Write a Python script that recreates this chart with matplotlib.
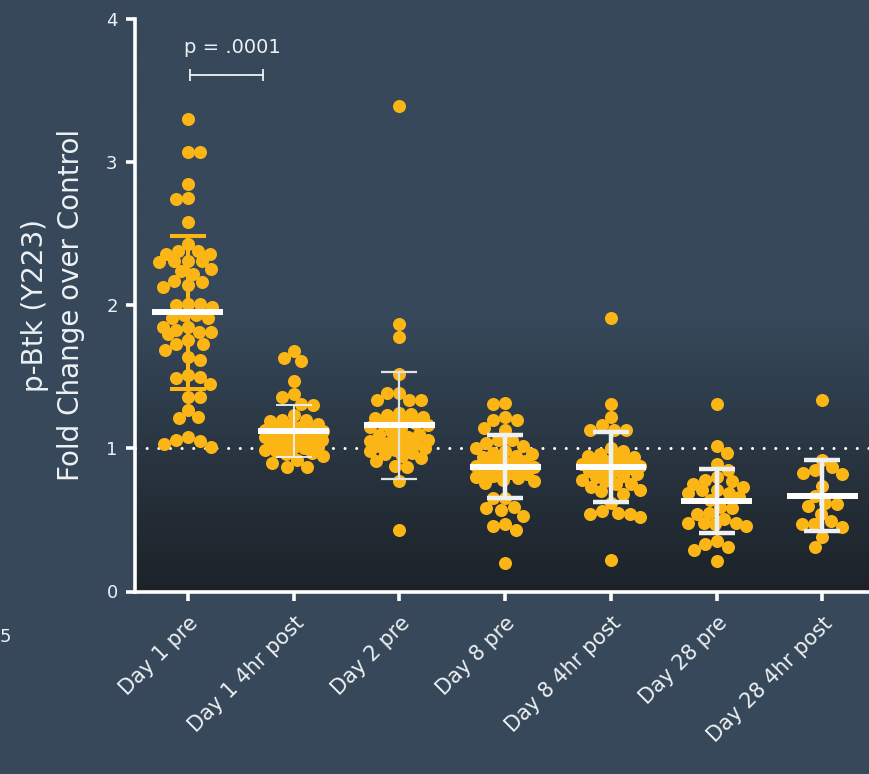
import numpy as np
import matplotlib
matplotlib.use('Agg')
import matplotlib.pyplot as plt

# p-Btk (Y223) fold change per timepoint
groups = ['Day 1 pre', 'Day 1 4hr post', 'Day 2 pre', 'Day 8 pre',
          'Day 8 4hr post', 'Day 28 pre', 'Day 28 4hr post']

day1_pre = [3.30, 3.07, 3.07, 2.85, 2.75, 2.74, 2.58, 2.43, 2.36, 2.38, 2.38, 2.36,
            2.31, 2.30, 2.31, 2.31, 2.24, 2.22, 2.25, 2.17, 2.14, 2.13, 2.16, 2.01,
            2.00, 1.99, 2.01, 1.93, 1.91, 1.91, 1.93, 1.85, 1.81, 1.80, 1.76, 1.81,
            1.83, 1.85, 1.73, 1.69, 1.73, 1.62, 1.64, 1.50, 1.45, 1.49, 1.51, 1.36,
            1.36, 1.27, 1.22, 1.21, 1.08, 1.05, 1.01, 1.03, 1.06]
day1_4hr = [1.68, 1.63, 1.61, 1.47, 1.38, 1.36, 1.31, 1.30, 1.23, 1.20, 1.20, 1.19,
            1.17, 1.16, 1.15, 1.15, 1.14, 1.13, 1.12, 1.11, 1.10, 1.09, 1.08, 1.07,
            1.06, 1.05, 1.04, 1.03, 1.02, 1.01, 1.00, 0.99, 0.98, 1.12, 1.08, 1.04,
            1.00, 0.97, 0.96, 0.95, 0.92, 0.90, 0.87, 0.87]
day2_pre = [3.39, 1.87, 1.78, 1.52, 1.39, 1.39, 1.34, 1.34, 1.34, 1.25, 1.24, 1.23,
            1.22, 1.21, 1.20, 1.19, 1.18, 1.17, 1.16, 1.15, 1.14, 1.12, 1.10, 1.09,
            1.08, 1.07, 1.06, 1.05, 1.04, 1.03, 1.02, 1.01, 1.00, 0.99, 0.98, 0.97,
            0.96, 0.95, 0.93, 0.91, 0.88, 0.87, 0.77, 0.43]
day8_pre = [1.32, 1.31, 1.22, 1.20, 1.20, 1.14, 1.13, 1.06, 1.06, 1.04, 1.02, 1.00,
            0.98, 0.97, 0.96, 0.95, 0.94, 0.92, 0.91, 0.90, 0.89, 0.88, 0.87, 0.86,
            0.85, 0.84, 0.83, 0.82, 0.81, 0.80, 0.79, 0.78, 0.77, 0.76, 0.65, 0.65,
            0.59, 0.58, 0.57, 0.53, 0.47, 0.46, 0.43, 0.20]
day8_4hr = [1.91, 1.31, 1.22, 1.16, 1.13, 1.13, 1.13, 1.00, 0.98, 0.96, 0.95, 0.94,
            0.93, 0.92, 0.91, 0.90, 0.89, 0.88, 0.87, 0.86, 0.85, 0.84, 0.83, 0.82,
            0.81, 0.80, 0.78, 0.77, 0.75, 0.75, 0.73, 0.71, 0.70, 0.68, 0.62, 0.56,
            0.55, 0.54, 0.54, 0.52, 0.22]
day28_pre = [1.31, 1.02, 0.97, 0.89, 0.85, 0.80, 0.78, 0.77, 0.75, 0.73, 0.71, 0.71,
             0.69, 0.69, 0.66, 0.64, 0.59, 0.58, 0.55, 0.54, 0.51, 0.48, 0.48, 0.48,
             0.47, 0.46, 0.35, 0.33, 0.31, 0.29, 0.21]
day28_4hr = [1.34, 0.92, 0.85, 0.87, 0.82, 0.83, 0.74, 0.67, 0.62, 0.60, 0.61, 0.54,
             0.49, 0.47, 0.45, 0.47, 0.38, 0.31]

series = [day1_pre, day1_4hr, day2_pre, day8_pre, day8_4hr, day28_pre, day28_4hr]

# mean +/- SD per group
means = [1.95, 1.12, 1.16, 0.87, 0.87, 0.63, 0.67]
sds = [0.535, 0.18, 0.375, 0.22, 0.245, 0.223, 0.25]

p_label = 'p = .0001'

BG = '#36485a'
DARK = '#1c2228'
GOLD = '#fbb615'
FG = '#eef1f4'

W, H = 869, 774
X0, X1 = -0.5, 6.44
fig = plt.figure(figsize=(W / 100, H / 100), dpi=100, facecolor=BG)
ax = fig.add_axes([135 / W, 1 - 591.5 / H, 1 - 135 / W, (591.5 - 19) / H])
ax.set_facecolor(BG)
ax.set_xlim(X0, X1)
ax.set_ylim(0, 4)

px_x = (W - 135) / (X1 - X0)
px_y = (591.5 - 19) / 4.0


def swarm(vals, diam=12.0, half=29.0):
    # greedy beeswarm in pixel space, capped width
    vals = np.asarray(vals, float)
    ypx = vals * px_y
    xs = np.zeros(len(vals))
    done = []
    cand = np.arange(-half, half + 0.5, 1.0)
    cand = cand[np.argsort(np.abs(cand), kind='stable')]
    for n, i in enumerate(np.argsort(-vals)):
        c = cand if n % 2 else -cand
        if done:
            dx = c[:, None] - xs[done][None, :]
            dy = ypx[i] - ypx[done]
            dist = np.sqrt(dx ** 2 + dy[None, :] ** 2).min(axis=1)
            ok = np.where(dist >= diam)[0]
            xs[i] = c[ok[0]] if len(ok) else c[np.argmax(dist)]
        done.append(i)
    return xs / px_x


# darkening gradient toward the baseline
yy = np.linspace(0, 4, 400)
t = np.clip((1.9 - yy) / 1.9, 0, 1)[:, None]
c_top = np.array(matplotlib.colors.to_rgb(BG))
c_bot = np.array(matplotlib.colors.to_rgb(DARK))
grad = (c_top * (1 - t) + c_bot * t)[:, None, :]
ax.imshow(grad, extent=[X0, X1, 0, 4], origin='lower', aspect='auto', zorder=0)

ax.axhline(1, color='white', lw=2.2, ls=(0, (0.01, 3.8)), dash_capstyle='round', zorder=2)

err_color = [GOLD, FG, '#dfe3e6', FG, FG, FG, FG]
err_lw = [2.9, 1.3, 1.6, 3.2, 3.2, 3.2, 3.2]

for i, vals in enumerate(series):
    ax.scatter(i + swarm(vals), vals, s=88, color=GOLD, lw=0, zorder=3)
    ax.errorbar(i, means[i], yerr=sds[i], fmt='none', ecolor=err_color[i],
                elinewidth=err_lw[i], capsize=13, capthick=err_lw[i], zorder=4)
    ax.hlines(means[i], i - 0.335, i + 0.335, color='white', lw=4.3, zorder=5)

# significance bracket
ax.plot([0.02, 0.71], [3.61, 3.61], color=FG, lw=1.3, zorder=5)
ax.vlines([0.02, 0.71], 3.57, 3.65, color=FG, lw=1.3, zorder=5)
ax.text(0.42, 3.80, p_label, ha='center', va='center', fontsize=14, color=FG)

for s in ['top', 'right']:
    ax.spines[s].set_visible(False)
for s in ['left', 'bottom']:
    ax.spines[s].set_color('white')
    ax.spines[s].set_linewidth(2.6)

ax.set_yticks([0, 1, 2, 3, 4])
ax.set_xticks(range(len(groups)))
ax.set_xticklabels(groups, rotation=45, ha='right', rotation_mode='anchor')
ax.tick_params(axis='both', colors='white', labelcolor=FG, length=6.5, width=2.6)
ax.tick_params(axis='y', labelsize=13, pad=6)
ax.tick_params(axis='x', labelsize=15, pad=9)

fig.text(53 / W, 1 - 305 / H, 'p-Btk (Y223)\nFold Change over Control', rotation=90,
         ha='center', va='center', fontsize=20, color=FG, linespacing=1.4,
         multialignment='center')
fig.text(0.0, 1 - 637 / H, '5', fontsize=13, color=FG, va='center', ha='left')

fig.savefig('out.png', dpi=100, facecolor=BG)
